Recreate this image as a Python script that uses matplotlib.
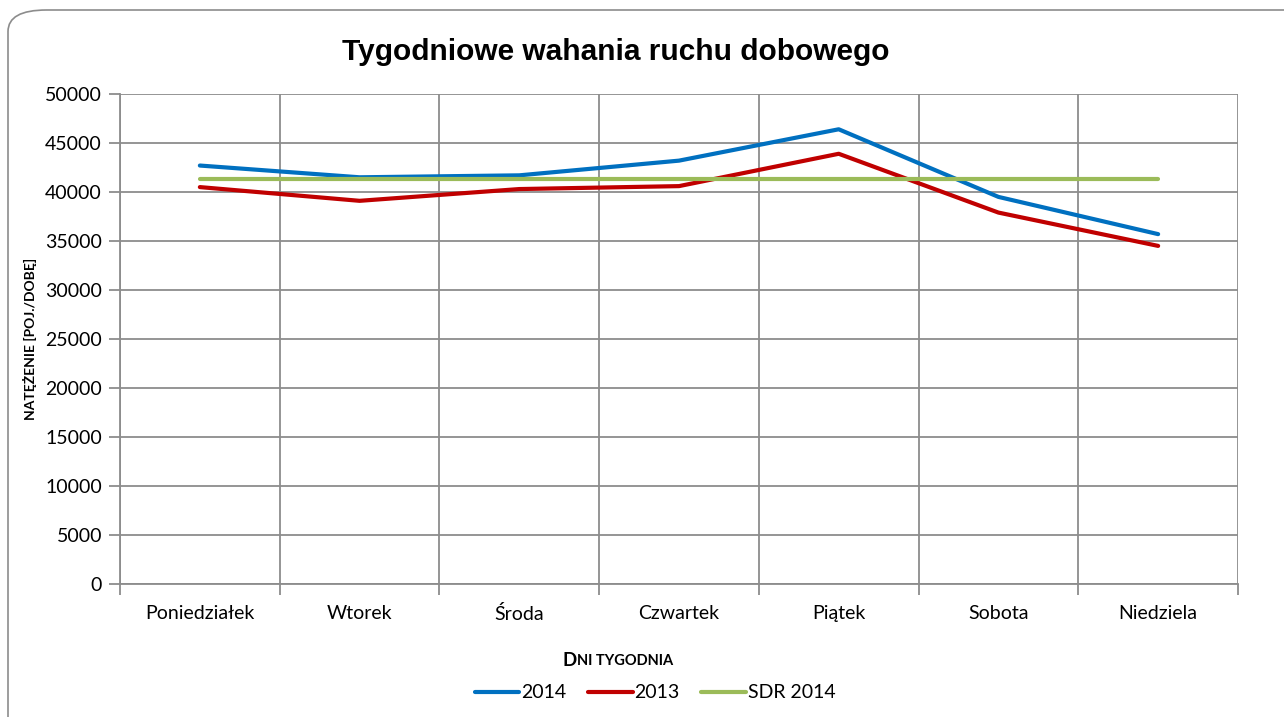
import matplotlib.pyplot as plt
import numpy as np
from matplotlib.patches import FancyBboxPatch

days = ["Poniedziałek", "Wtorek", "Środa", "Czwartek", "Piątek", "Sobota", "Niedziela"]
traffic_2014 = [42700, 41500, 41700, 43200, 46400, 39500, 35700]
traffic_2013 = [40500, 39100, 40300, 40600, 43900, 37900, 34500]
sdr_2014 = [41300, 41300, 41300, 41300, 41300, 41300, 41300]

plt.rcParams['font.family'] = ['Lato', 'DejaVu Sans']

fig = plt.figure(figsize=(12.84, 7.17), dpi=100)
ax = fig.add_axes([120 / 1284, 1 - 584 / 717, 1118 / 1284, 490 / 717])

# rounded outer frame
frame = FancyBboxPatch((8 / 1284, -0.2), 1.2, 1 - 10 / 717 + 0.2,
                       boxstyle="round,pad=0,rounding_size=0.03",
                       transform=fig.transFigure, facecolor="none",
                       edgecolor="#8c8c8c", linewidth=1.2, zorder=0)
fig.patches.append(frame)

x = np.arange(len(days))
ax.plot(x, traffic_2014, color="#0070c0", lw=3, solid_capstyle="round", label="2014", zorder=3)
ax.plot(x, traffic_2013, color="#c00000", lw=3, solid_capstyle="round", label="2013", zorder=3)
ax.plot(x, sdr_2014, color="#9bbb59", lw=3, solid_capstyle="round", label="SDR 2014", zorder=4)

ax.set_xlim(-0.5, len(days) - 0.5)
ax.set_ylim(0, 50000)
ax.set_yticks(np.arange(0, 50001, 5000))
ax.set_xticks(x)
ax.set_xticklabels(days)
ax.set_xticks(np.arange(-0.5, len(days)), minor=True)

ax.grid(True, which="major", axis="y", color="#8c8c8c", lw=1.3)
ax.grid(True, which="minor", axis="x", color="#8c8c8c", lw=1.3)
ax.set_axisbelow(True)

ax.tick_params(axis="x", which="major", length=0, labelsize=14, pad=15)
ax.tick_params(axis="x", which="minor", length=8, color="#8c8c8c", width=1.3)
ax.tick_params(axis="y", length=8, color="#8c8c8c", width=1.3, labelsize=14, pad=5)

for s in ["top", "right"]:
    ax.spines[s].set_visible(False)
for s in ["left", "bottom"]:
    ax.spines[s].set_color("#8c8c8c")
    ax.spines[s].set_linewidth(1.3)

fig.text(616 / 1284, 1 - 52 / 717, "Tygodniowe wahania ruchu dobowego",
         family="Liberation Sans", fontweight="bold", fontsize=21.5,
         ha="center", va="center")

fig.text(30 / 1284, 1 - 339 / 717, "NATĘŻENIE [POJ./DOBĘ]", rotation=90,
         fontweight="bold", fontsize=10, ha="center", va="center")

# small-caps style x label
fig.text(577 / 1284, 1 - 660 / 717, "D", fontweight="bold", fontsize=13.5,
         ha="right", va="center")
fig.text(577 / 1284, 1 - 661 / 717, "NI TYGODNIA", fontweight="bold", fontsize=10.5,
         ha="left", va="center")

ax.legend(loc="center", bbox_to_anchor=(655 / 1284, 1 - 693 / 717),
          bbox_transform=fig.transFigure, ncol=3, frameon=False,
          fontsize=14, handlelength=2.3, handletextpad=0.1, columnspacing=1.1)

fig.savefig("out.png", dpi=100)
